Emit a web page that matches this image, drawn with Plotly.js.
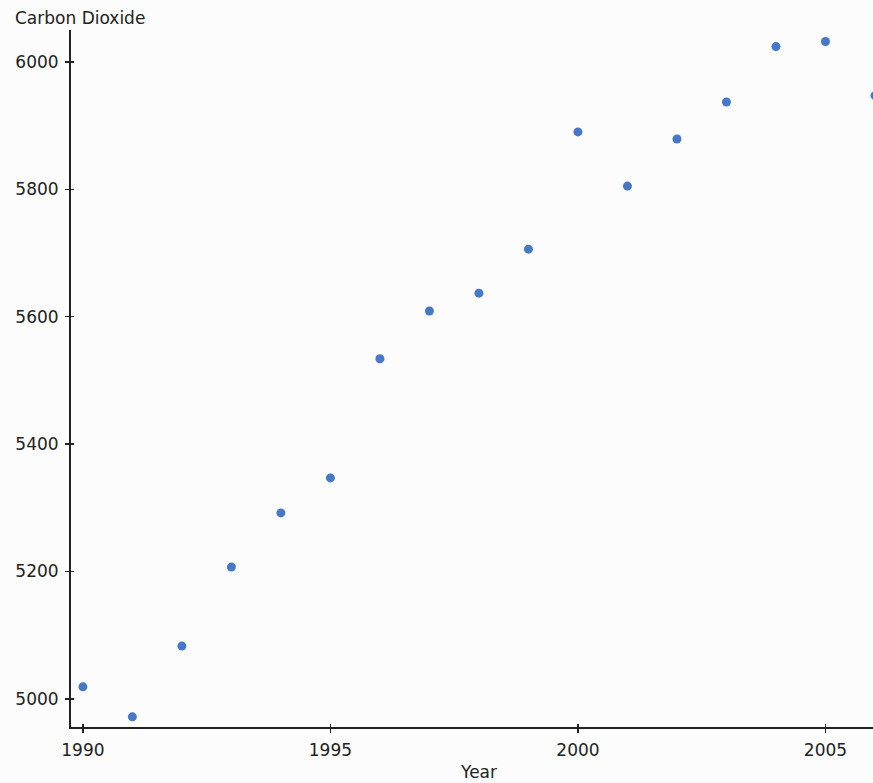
<!DOCTYPE html>
<html>
<head>
<meta charset="utf-8">
<script src="https://cdn.plot.ly/plotly-3.0.1.min.js"></script>
<style>html,body{margin:0;padding:0;background:#fcfcfc;}</style>
</head>
<body>
<div id="chart" style="width:873px;height:783px;"></div>
<script>
const years = [1990,1991,1992,1993,1994,1995,1996,1997,1998,1999,2000,2001,2002,2003,2004,2005,2006];
const co2 = [5019,4972,5083,5207,5292,5347,5534,5609,5637,5706,5890,5805,5879,5937,6024,6032,5947];
const xTicks = [1990,1995,2000,2005];
const yTicks = [5000,5200,5400,5600,5800,6000];

const font = {family: "DejaVu Sans, sans-serif", size: 17, color: "#222"};
const W = 873, H = 783, ml = 71, mr = 0, mt = 30, mb = 56;
const pw = W - ml - mr, ph = H - mt - mb;
const xRange = [1989.76, 2005.96];
const yRange = [4956, 6050];

const axCommon = {
  showgrid: false, zeroline: false, showline: true, linecolor: "#222", linewidth: 2,
  ticklen: 4, tickwidth: 1.5, tickcolor: "#222"
};

Plotly.newPlot("chart", [{
  x: years, y: co2, type: "scatter", mode: "markers",
  marker: {color: "#4677c8", size: 9},
  cliponaxis: true, hoverinfo: "x+y"
}, {
  x: [], y: [], type: "scatter", mode: "markers", xaxis: "x2", yaxis: "y2",
  showlegend: false, hoverinfo: "skip"
}], {
  width: W, height: H,
  margin: {l: ml, r: mr, t: mt, b: mb, pad: 0},
  paper_bgcolor: "#fcfcfc", plot_bgcolor: "#fcfcfc",
  font: font,
  showlegend: false,
  xaxis: Object.assign({}, axCommon, {
    range: xRange, tickvals: xTicks, ticktext: xTicks.map(String),
    ticks: "outside", ticklabelstandoff: 3
  }),
  yaxis: Object.assign({}, axCommon, {
    range: yRange, tickvals: yTicks, ticktext: yTicks.map(String),
    ticks: "outside", ticklabelstandoff: 3
  }),
  xaxis2: Object.assign({}, axCommon, {
    overlaying: "x", anchor: "y", side: "bottom",
    range: xRange, tickvals: xTicks, showticklabels: false, ticks: "inside", ticklen: 3
  }),
  yaxis2: Object.assign({}, axCommon, {
    overlaying: "y", anchor: "x", side: "left",
    range: yRange, tickvals: yTicks, showticklabels: false, ticks: "inside", ticklen: 3
  }),
  annotations: [{
    text: "Carbon Dioxide", xref: "paper", yref: "paper",
    x: (13 - ml) / pw, y: 1 + (mt - 18) / ph, xanchor: "left", yanchor: "middle",
    showarrow: false, font: font
  }, {
    text: "Year", xref: "paper", yref: "paper",
    x: (478.5 - ml) / pw, y: -(772 - (H - mb)) / ph, xanchor: "center", yanchor: "middle",
    showarrow: false, font: font
  }]
}, {displayModeBar: false, staticPlot: true});
</script>
</body>
</html>
